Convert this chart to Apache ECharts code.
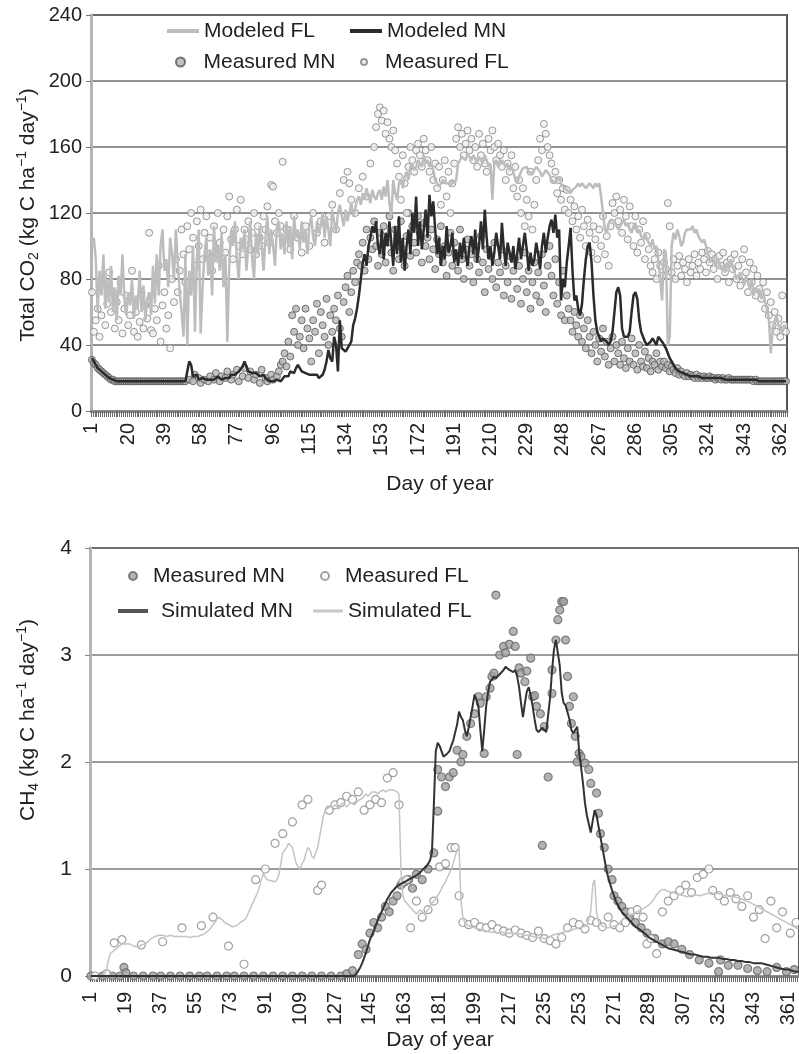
<!DOCTYPE html>
<html>
<head>
<meta charset="utf-8">
<script src="https://cdn.jsdelivr.net/npm/echarts@6/dist/echarts.min.js"></script>
<style>
  html, body { margin: 0; padding: 0; background: #fff; }
  #chart { width: 799px; height: 1054px; }
</style>
</head>
<body>
<div id="chart"></div>
<script>
const FONT = '"Liberation Sans", Arial, Helvetica, sans-serif';

// ---------- Total CO2 panel (days 1..365) ----------
const co2Days = Array.from({ length: 365 }, (_, i) => String(i + 1));

const modeledFL = [
  100,105,92,60,85,70,95,62,80,66,
  88,60,75,55,82,70,95,68,58,72,
  64,80,56,70,62,85,60,76,55,68,
  72,58,88,65,95,70,100,110,85,92,
  75,105,95,80,110,90,72,60,45,95,
  40,85,70,100,48,92,110,47,75,95,
  105,82,98,70,112,90,100,85,108,75,
  95,42,88,110,100,115,92,80,105,98,
  110,85,100,115,92,80,108,95,112,100,
  85,105,118,95,110,100,88,112,115,98,
  108,95,115,100,112,92,118,105,110,98,
  115,102,110,95,112,118,105,100,115,108,
  112,120,105,118,110,100,122,115,108,120,
  125,118,112,122,115,120,126,118,122,128,
  130,125,132,128,135,130,126,134,130,128,
  132,134,128,136,130,140,126,118,140,132,
  128,138,140,135,142,145,140,148,150,146,
  148,152,150,148,155,150,152,148,150,146,
  140,138,136,138,140,138,137,138,136,140,
  138,140,150,152,154,155,152,156,154,152,
  155,153,150,154,152,150,155,152,148,150,
  128,150,152,148,150,152,150,148,150,146,
  148,145,140,138,142,145,147,146,148,145,
  146,144,146,148,147,145,142,144,146,145,
  143,140,141,138,140,142,138,136,137,134,
  133,132,134,133,136,138,136,138,137,135,
  136,138,137,135,138,136,138,130,120,110,
  108,114,116,117,115,116,110,112,114,116,
  112,114,110,108,112,114,108,110,106,104,
  108,104,102,100,104,98,100,92,80,67,
  98,96,40,45,100,108,104,110,106,100,
  102,108,110,111,110,112,108,110,106,104,
  102,104,100,96,90,92,94,88,92,90,
  86,88,84,90,86,92,88,84,80,82,
  84,80,76,82,78,74,80,70,75,72,
  74,68,72,66,62,56,35,50,55,58,
  52,50,48,52,50
];

const modeledMN = [
  32,30,28,26,25,24,23,22,21,20,
  19,19,18,18,18,18,18,18,18,18,
  18,18,18,18,18,18,18,18,18,18,
  18,18,18,18,18,18,18,18,18,18,
  18,18,18,18,18,18,18,18,18,18,
  18,30,28,21,20,22,19,19,20,19,
  19,18,19,20,19,20,21,20,19,20,
  20,21,20,22,21,22,23,24,25,27,
  30,29,24,25,23,22,23,22,21,22,
  22,20,19,18,19,18,18,19,18,18,
  19,21,22,21,24,25,23,26,28,29,
  24,23,23,22,22,23,22,21,22,20,
  19,22,25,30,37,32,30,45,40,24,
  55,38,37,36,38,37,42,52,56,62,
  70,80,90,95,88,100,105,112,108,115,
  100,95,110,92,108,100,115,102,88,112,
  95,118,90,105,85,100,110,95,120,108,
  130,100,115,98,110,122,105,131,118,127,
  110,95,105,88,100,92,112,96,100,108,
  90,98,88,102,92,105,95,88,100,106,
  95,110,90,100,115,98,122,105,92,100,
  88,96,108,100,92,114,98,88,102,96,
  90,100,86,95,105,92,100,108,98,85,
  96,88,92,102,95,86,100,108,96,105,
  112,116,108,119,105,110,67,80,75,90,
  100,111,85,67,70,62,58,65,80,92,
  100,102,90,70,55,48,45,42,44,45,
  42,40,42,48,60,72,75,70,50,45,
  44,45,48,60,70,72,68,55,48,45,
  42,40,40,42,44,42,40,45,44,42,
  40,38,35,32,30,28,26,25,24,23,
  23,22,22,22,21,21,21,21,21,21,
  20,20,20,20,20,20,20,20,20,20,
  20,20,19,19,19,19,19,19,19,19,
  19,19,19,19,19,19,19,19,19,19,
  18,18,18,18,18,18,18,18,18,18,
  18,18,18,18,18
];

// [day, value]
const measuredMN = [
  [1,31],[2,29],[3,28],[4,26],[5,25],[6,24],[7,23],[8,22],[9,21],[10,20],
  [11,19],[12,19],[13,18],[14,18],[15,18],[16,18],[17,18],[18,18],[19,18],[20,18],
  [21,18],[22,18],[23,18],[24,18],[25,18],[26,18],[27,18],[28,18],[29,18],[30,18],
  [31,18],[32,18],[33,18],[34,18],[35,18],[36,18],[37,18],[38,18],[39,18],[40,18],
  [41,18],[42,18],[43,18],[44,18],[45,18],[46,18],[47,18],[48,18],[49,18],[50,18],
  [52,19],[54,18],[55,22],[57,20],[58,17],[60,19],[62,18],[63,21],[65,19],[66,23],
  [68,18],[69,21],[71,20],[72,24],[74,19],[75,22],[77,25],[78,18],[80,21],[81,26],
  [83,20],[84,24],[86,19],[87,22],[89,17],[90,25],[92,20],[93,18],[95,22],[96,19],
  [98,21],[99,24],[100,28],
  [101,30],[102,35],[103,27],[104,42],[105,33],[106,58],[107,48],[108,62],[109,40],[110,45],
  [111,55],[112,38],[113,62],[114,50],[115,44],[116,30],[117,55],[118,48],[119,65],[120,35],
  [121,60],[122,52],[123,45],[124,68],[125,40],[126,58],[127,48],[128,62],[129,55],[130,70],
  [131,50],[132,45],[133,66],[134,75],[135,82],[136,60],[137,72],[138,85],[139,78],[140,90],
  [141,95],[142,88],[143,102],[144,85],[145,110],[146,92],[147,105],[148,98],[149,115],[150,100],
  [151,88],[152,108],[153,95],[154,112],[155,90],[156,102],[157,118],[158,96],[159,85],[160,110],
  [161,100],[162,92],[163,115],[164,98],[165,88],[166,106],[167,120],[168,94],[169,112],[170,102],
  [171,96],[172,118],[173,108],[174,90],[175,114],[176,100],[177,105],[178,92],[179,110],[180,98],
  [181,86],[182,104],[183,95],[184,112],[185,90],[186,100],[187,82],[188,96],[189,108],[190,88],
  [191,102],[192,94],[193,85],[194,110],[195,92],[196,80],[197,98],[198,104],[199,88],[200,95],
  [201,78],[202,100],[203,92],[204,84],[205,106],[206,90],[207,72],[208,98],[209,86],[210,94],
  [211,80],[212,102],[213,75],[214,90],[215,84],[216,98],[217,70],[218,88],[219,78],[220,94],
  [221,68],[222,85],[223,92],[224,74],[225,88],[226,65],[227,80],[228,96],[229,72],[230,85],
  [231,62],[232,78],[233,90],[234,70],[235,84],[236,66],[237,95],[238,76],[239,60],[240,88],
  [241,100],[242,82],[243,70],[244,92],[245,65],[246,78],[247,58],[248,85],[249,55],[250,70],
  [251,62],[252,55],[253,48],[254,60],[255,52],[256,45],[257,58],[258,42],[259,50],[260,38],
  [261,55],[262,45],[263,35],[264,48],[265,40],[266,30],[267,44],[268,36],[269,50],[270,33],
  [271,42],[272,28],[273,38],[274,45],[275,30],[276,40],[277,35],[278,28],[279,42],[280,32],
  [281,26],[282,38],[283,30],[284,44],[285,28],[286,35],[287,25],[288,40],[289,30],[290,27],
  [291,36],[292,26],[293,32],[294,24],[295,30],[296,28],[297,35],[298,25],[299,30],[300,27],
  [301,30],[302,26],[303,28],[304,24],[305,27],[306,25],[307,23],[308,26],[309,22],[310,24],
  [311,22],[312,21],[313,23],[314,21],[315,22],[316,21],[317,20],[318,22],[319,20],[320,21],
  [321,20],[322,21],[323,20],[324,20],[325,21],[326,20],[327,20],[328,19],[329,20],[330,20],
  [331,19],[332,20],[333,19],[334,19],[335,20],[336,19],[337,19],[338,19],[339,19],[340,19],
  [341,19],[342,19],[343,19],[344,19],[345,19],[346,19],[347,19],[348,18],[349,19],[350,18],
  [351,18],[352,18],[353,18],[354,18],[355,18],[356,18],[357,18],[358,18],[359,18],[360,18],
  [361,18],[362,18],[363,18],[364,18],[365,18]
];

const measuredFL = [
  [1,72],[2,48],[3,55],[4,62],[5,45],[6,58],[7,80],[8,52],[9,65],[10,84],
  [11,60],[12,72],[13,50],[14,66],[15,55],[16,78],[17,47],[18,62],[19,70],[20,52],
  [21,58],[22,85],[23,48],[24,60],[25,45],[26,54],[27,72],[28,50],[29,64],[30,56],
  [31,108],[32,49],[33,47],[34,62],[35,55],[36,88],[37,42],[38,64],[39,72],[40,50],
  [41,58],[42,38],[43,80],[44,66],[45,92],[46,72],[47,85],[48,110],[49,95],[50,78],
  [51,112],[52,98],[53,120],[54,105],[55,88],[56,115],[57,100],[58,122],[59,92],[60,108],
  [61,118],[62,95],[63,105],[64,85],[65,112],[66,98],[67,120],[68,102],[69,90],[70,110],
  [71,96],[72,118],[73,130],[74,104],[75,92],[76,110],[77,122],[78,100],[79,128],[80,95],
  [81,110],[82,104],[83,115],[84,98],[85,108],[86,120],[87,95],[88,112],[89,105],[90,100],
  [91,118],[92,110],[93,124],[94,102],[95,137],[96,136],[97,115],[98,108],[99,120],[100,112],
  [101,151],[103,110],[105,98],[107,118],[109,105],[111,96],[113,112],[115,100],[117,120],[119,108],
  [121,115],[123,102],[125,118],[127,125],[129,110],[131,132],[133,140],[135,145],[136,138],[137,128],
  [139,120],[141,135],[143,142],[145,130],[147,150],[149,160],
  [150,172],[151,180],[152,184],[153,176],[154,182],[155,168],[156,175],[157,165],[158,160],[159,170],
  [160,158],[161,150],[162,142],[163,128],[164,155],[165,138],[166,120],[167,148],[168,160],[169,152],
  [170,145],[171,158],[172,162],[173,155],[174,148],[175,165],[176,158],[177,152],[178,145],[179,160],
  [180,140],[181,150],[182,135],[183,148],[184,125],[185,140],[186,152],[187,130],[188,145],[189,120],
  [190,138],[191,150],[192,165],[193,172],[194,160],[195,168],[196,155],[197,162],[198,170],[199,158],
  [200,165],[201,152],[202,160],[203,148],[204,168],[205,155],[206,162],[207,150],[208,145],[209,165],
  [210,158],[211,170],[212,160],[213,152],[214,162],[215,155],[216,148],[217,158],[218,140],[219,150],
  [220,145],[221,155],[222,135],[223,148],[224,130],[225,140],[226,120],[227,135],[228,112],[229,128],
  [230,118],[231,145],[232,110],[233,125],[234,140],[235,152],[236,165],[237,158],[238,174],[239,168],
  [240,160],[241,155],[242,150],[243,140],[244,145],[245,132],
  [246,140],[247,128],[248,135],[249,122],[250,134],[251,120],[252,128],[253,115],[254,124],[255,110],
  [256,118],[257,105],[258,122],[259,112],[260,100],[261,116],[262,108],[263,96],[264,112],[265,104],
  [266,92],[267,110],[268,100],[269,118],[270,95],[271,106],[272,88],[273,112],[274,126],[275,120],
  [276,130],[277,115],[278,122],[279,108],[280,128],[281,118],[282,104],[283,124],[284,112],[285,100],
  [286,118],[287,96],[288,110],[289,102],[290,115],[291,92],[292,106],[293,98],[294,88],[295,84],
  [296,92],[297,80],[298,96],[299,88],[300,82],[301,90],[302,86],[303,126],[304,112],[305,84],
  [306,92],[307,80],[308,88],[309,94],[310,82],[311,90],[312,86],[313,78],[314,92],[315,84],
  [316,88],[317,95],[318,82],[319,90],[320,86],[321,96],[322,92],[323,84],[324,97],[325,90],
  [326,95],[327,86],[328,92],[329,80],[330,94],[331,88],[332,96],[333,84],[334,90],[335,78],
  [336,92],[337,86],[338,95],[339,80],[340,88],[341,76],[342,92],[343,98],[344,84],[345,72],
  [346,90],[347,78],[348,86],[349,70],[350,82],[351,74],[352,68],[353,78],[354,62],[355,72],
  [356,58],[357,66],[358,52],[359,60],[360,48],[361,56],[362,45],[363,70],[364,52],[365,48]
];

// ---------- CH4 panel (days 1..366) ----------
const ch4Days = Array.from({ length: 366 }, (_, i) => String(i + 1));

const simulatedMN = [
  0,0,0,0,0,0,0,0,0,0,
  0,0,0,0,0,0,0,0,0,0,
  0,0,0,0,0,0,0,0,0,0,
  0,0,0,0,0,0,0,0,0,0,
  0,0,0,0,0,0,0,0,0,0,
  0,0,0,0,0,0,0,0,0,0,
  0,0,0,0,0,0,0,0,0,0,
  0,0,0,0,0,0,0,0,0,0,
  0,0,0,0,0,0,0,0,0,0,
  0,0,0,0,0,0,0,0,0,0,
  0,0,0,0,0,0,0,0,0,0,
  0,0,0,0,0,0,0,0,0,0,
  0,0,0,0,0,0,0,0,0,0,
  0,0,0,0,0,0,0,0.02,0.05,0.08,
  0.12,0.17,0.22,0.28,0.34,0.38,0.42,0.47,0.52,0.56,
  0.6,0.64,0.68,0.72,0.75,0.78,0.8,0.82,0.84,0.85,
  0.86,0.87,0.88,0.89,0.9,0.91,0.92,0.93,0.94,0.95,
  0.97,0.99,1.0,1.02,1.05,1.08,1.15,1.6,2.1,2.18,
  2.15,2.1,2.05,2.05,2.08,2.1,2.15,2.2,2.2,2.35,
  2.47,2.42,2.39,2.3,2.24,2.32,2.42,2.52,2.63,2.58,
  2.52,2.3,2.1,2.3,2.52,2.65,2.75,2.77,2.8,2.78,
  2.8,2.82,2.83,2.86,2.89,2.88,2.86,2.85,2.84,2.86,
  2.8,2.7,2.55,2.42,2.55,2.66,2.7,2.62,2.52,2.4,
  2.3,2.28,2.3,2.32,2.3,2.28,2.27,2.6,2.85,3.05,
  3.14,3.14,2.9,2.65,2.55,2.53,2.52,2.4,2.3,2.27,
  2.3,2.33,2.1,1.95,1.8,1.62,1.5,1.42,1.34,1.45,
  1.55,1.5,1.4,1.3,1.2,1.1,1.0,0.92,0.86,0.8,
  0.75,0.7,0.66,0.63,0.6,0.58,0.56,0.54,0.52,0.5,
  0.48,0.46,0.45,0.44,0.43,0.41,0.4,0.38,0.36,0.35,
  0.34,0.33,0.32,0.31,0.3,0.29,0.28,0.27,0.26,0.26,
  0.25,0.24,0.24,0.23,0.23,0.22,0.22,0.21,0.21,0.2,
  0.2,0.2,0.2,0.19,0.19,0.19,0.18,0.18,0.18,0.18,
  0.17,0.17,0.17,0.17,0.17,0.16,0.16,0.16,0.16,0.15,
  0.15,0.15,0.15,0.14,0.14,0.14,0.14,0.13,0.13,0.13,
  0.13,0.13,0.12,0.12,0.12,0.12,0.12,0.11,0.11,0.1,
  0.1,0.1,0.09,0.09,0.08,0.08,0.07,0.07,0.06,0.06,
  0.06,0.05,0.05,0.05,0.04,0.04
];

const simulatedFL = [
  0,0,0,0,0,0,0,0,0.05,0.15,
  0.21,0.22,0.24,0.25,0.27,0.28,0.3,0.31,0.3,0.31,
  0.3,0.29,0.28,0.28,0.27,0.28,0.29,0.3,0.3,0.31,
  0.33,0.35,0.36,0.37,0.38,0.38,0.37,0.38,0.38,0.37,
  0.38,0.38,0.37,0.37,0.38,0.37,0.37,0.37,0.36,0.37,
  0.37,0.36,0.37,0.37,0.36,0.37,0.38,0.38,0.39,0.4,
  0.41,0.43,0.45,0.48,0.5,0.53,0.55,0.54,0.52,0.5,
  0.49,0.48,0.47,0.46,0.46,0.47,0.48,0.5,0.51,0.52,
  0.54,0.58,0.62,0.66,0.7,0.74,0.78,0.84,0.9,0.96,
  0.92,0.9,0.9,0.89,0.88,0.88,0.9,0.95,1.05,1.15,
  1.15,1.2,1.24,1.22,1.2,1.12,1.05,1.02,1.0,1.05,
  1.08,1.15,1.2,1.18,1.12,1.1,1.15,1.2,1.3,1.4,
  1.5,1.55,1.55,1.58,1.57,1.58,1.6,1.58,1.56,1.6,
  1.62,1.6,1.58,1.6,1.62,1.63,1.6,1.62,1.64,1.65,
  1.66,1.68,1.7,1.68,1.7,1.72,1.73,1.72,1.7,1.72,
  1.73,1.74,1.72,1.73,1.74,1.75,1.74,1.73,1.72,1.7,
  1.0,0.75,0.7,0.68,0.66,0.65,0.62,0.6,0.58,0.6,
  0.62,0.6,0.58,0.6,0.62,0.65,0.68,0.7,0.72,0.75,
  0.78,0.82,0.85,0.88,0.92,0.96,1.0,1.05,1.12,1.18,
  1.2,0.7,0.55,0.5,0.48,0.47,0.46,0.45,0.45,0.44,
  0.44,0.43,0.43,0.42,0.42,0.42,0.41,0.41,0.41,0.4,
  0.4,0.4,0.41,0.4,0.4,0.4,0.4,0.39,0.4,0.4,
  0.4,0.4,0.39,0.38,0.38,0.37,0.38,0.38,0.37,0.36,
  0.36,0.35,0.36,0.35,0.35,0.36,0.36,0.37,0.38,0.38,
  0.39,0.4,0.4,0.41,0.41,0.42,0.42,0.43,0.43,0.44,
  0.44,0.45,0.45,0.46,0.46,0.46,0.47,0.48,0.6,0.85,
  0.9,0.6,0.5,0.48,0.47,0.46,0.46,0.45,0.45,0.46,
  0.46,0.47,0.48,0.5,0.52,0.54,0.55,0.56,0.57,0.58,
  0.58,0.59,0.6,0.61,0.62,0.63,0.64,0.65,0.66,0.68,
  0.7,0.73,0.76,0.78,0.8,0.8,0.81,0.8,0.79,0.78,
  0.78,0.77,0.77,0.76,0.76,0.75,0.75,0.75,0.74,0.75,
  0.75,0.75,0.76,0.76,0.75,0.75,0.76,0.77,0.77,0.78,
  0.78,0.78,0.77,0.77,0.77,0.76,0.76,0.76,0.75,0.75,
  0.75,0.74,0.74,0.74,0.73,0.72,0.72,0.71,0.7,0.7,
  0.69,0.68,0.67,0.66,0.65,0.64,0.63,0.62,0.61,0.6,
  0.59,0.58,0.57,0.56,0.55,0.54,0.53,0.52,0.51,0.5,
  0.49,0.48,0.47,0.46,0.45,0.44
];

// [day, value]
const ch4MeasuredMN = [
  [1,0],[7,0],[12,0],[16,0],[18,0.08],[19,0.03],[23,0],[28,0],[33,0],[37,0],
  [42,0],[47,0],[52,0],[57,0],[61,0],[66,0],[71,0],[75,0],[80,0],[85,0],
  [90,0],[95,0],[100,0],[105,0],[110,0],[115,0],[120,0],[125,0],[130,0],[133,0.02],
  [136,0.05],[139,0.2],[141,0.3],[143,0.25],[145,0.4],[147,0.5],[149,0.45],[151,0.55],[153,0.65],[155,0.6],
  [157,0.7],[159,0.75],[161,0.85],[163,0.88],[165,0.9],[167,0.82],[169,0.95],[172,0.9],[175,1.0],[178,1.15],
  [180,1.54],[180,1.93],[182,1.86],[184,1.77],[186,1.86],[188,1.9],[190,2.11],[192,2.0],[193,2.07],[195,2.24],
  [197,2.36],[199,2.45],[201,2.61],[202,2.55],[204,2.08],[205,2.61],[207,2.69],[208,2.8],[209,2.83],[210,3.56],
  [212,3.0],[214,3.08],[215,3.02],[217,3.1],[219,3.22],[220,3.08],[221,2.07],[222,2.88],[223,2.83],[225,2.75],
  [226,2.85],[228,2.97],[229,2.61],[230,2.62],[231,2.52],[233,2.45],[234,1.22],[235,2.33],[237,1.86],[239,2.86],
  [239,2.64],[241,3.14],[242,3.33],[243,3.42],[244,3.5],[245,3.5],[246,3.14],[247,2.8],[248,2.52],[249,2.36],
  [250,2.61],[251,2.24],[252,2.0],[253,2.08],[254,2.05],[256,1.99],[258,1.93],[259,1.8],[262,1.71],[263,1.52],
  [264,1.33],[266,1.2],[268,1.0],[270,0.9],[271,0.75],[273,0.7],[275,0.65],[277,0.6],[279,0.55],[282,0.5],
  [285,0.45],[288,0.4],[292,0.35],[296,0.3],[299,0.32],[302,0.3],[306,0.25],[310,0.2],[315,0.15],[320,0.12],
  [325,0.04],[326,0.15],[330,0.1],[335,0.1],[340,0.07],[345,0.05],[350,0.04],[355,0.08],[360,0.04],[364,0.06]
];

const ch4MeasuredFL = [
  [3,0],[9,0.02],[13,0.31],[17,0.34],[27,0.29],[38,0.32],[48,0.45],[58,0.47],[64,0.55],[72,0.28],
  [80,0.11],[86,0.9],[91,1.0],[96,1.24],[100,1.33],[105,1.44],[110,1.6],[113,1.65],[118,0.8],[120,0.85],
  [124,1.55],[127,1.6],[130,1.62],[133,1.68],[136,1.65],[139,1.72],[142,1.55],[145,1.6],[148,1.65],[151,1.62],
  [154,1.85],[157,1.9],[160,1.6],[162,0.88],[164,0.9],[166,0.45],[169,0.7],[172,0.55],[175,0.62],[178,0.7],
  [181,1.02],[184,1.05],[187,1.2],[189,1.2],[191,0.75],[193,0.5],[196,0.48],[199,0.5],[202,0.46],[205,0.45],
  [208,0.48],[211,0.44],[214,0.42],[217,0.4],[220,0.43],[223,0.4],[226,0.38],[229,0.36],[232,0.42],[235,0.35],
  [238,0.33],[241,0.3],[244,0.36],[247,0.45],[250,0.5],[253,0.48],[256,0.44],[259,0.52],[262,0.5],[265,0.46],
  [268,0.55],[271,0.48],[274,0.45],[277,0.5],[280,0.6],[283,0.62],[286,0.55],[288,0.3],[290,0.35],[293,0.21],
  [296,0.6],[299,0.7],[302,0.75],[305,0.8],[308,0.85],[311,0.78],[314,0.92],[317,0.95],[320,1.0],[322,0.8],
  [325,0.75],[328,0.7],[331,0.78],[334,0.72],[337,0.65],[340,0.75],[343,0.55],[346,0.62],[349,0.35],[352,0.7],
  [355,0.45],[358,0.6],[362,0.4],[365,0.5]
];

const co2Axis = { min: 0, max: 240, step: 40 };
const ch4Axis = { min: 0, max: 4, step: 1 };

const asPoints = arr => arr.map(([d, v]) => [String(d), v]);

const chart = echarts.init(document.getElementById('chart'), null, { renderer: 'canvas' });

const tickText = { color: '#222', fontFamily: FONT };
const legendText = { fontSize: 21, color: '#222', fontFamily: FONT, lineHeight: 24 };

// one legend box per entry so each sits at its own spot
function legendItem(name, icon, left, top, w, h, padLeft) {
  return {
    data: [{ name, icon }], left, top, itemWidth: w, itemHeight: h, padding: 0,
    selectedMode: false,
    textStyle: Object.assign({ padding: [0, 0, 0, padLeft || 0] }, legendText),
    formatter: n => n.replace('CH4 ', '')
  };
}

const titleRich = {
  a: { fontSize: 21, lineHeight: 26, fontFamily: FONT, fill: '#222' },
  s: { fontSize: 14, lineHeight: 12, verticalAlign: 'bottom', fontFamily: FONT, fill: '#222' },
  p: { fontSize: 14, lineHeight: 12, verticalAlign: 'top', fontFamily: FONT, fill: '#222' }
};

chart.setOption({
  animation: false,
  backgroundColor: '#ffffff',
  grid: [
    { left: 91, top: 15, width: 696, height: 396, show: true, borderColor: '#555', borderWidth: 2 },
    { left: 90, top: 548, width: 715, height: 428, show: true, borderColor: '#555', borderWidth: 2 }
  ],
  xAxis: [
    {
      type: 'category', gridIndex: 0, data: co2Days, boundaryGap: true,
      axisLine: { lineStyle: { color: '#8c8c8c', width: 3 } },
      axisTick: { show: true, interval: 0, length: 6, lineStyle: { color: '#6a6a6a', width: 1 } },
      axisLabel: Object.assign({ interval: 18, rotate: 90, margin: 12, fontSize: 20 }, tickText),
      splitLine: { show: false }
    },
    {
      type: 'category', gridIndex: 1, data: ch4Days, boundaryGap: true,
      axisLine: { lineStyle: { color: '#8c8c8c', width: 3 } },
      axisTick: { show: true, interval: 0, length: 6, lineStyle: { color: '#6a6a6a', width: 1 } },
      axisLabel: Object.assign({ interval: 17, rotate: 90, margin: 16, fontSize: 20 }, tickText),
      splitLine: { show: false }
    }
  ],
  yAxis: [
    {
      type: 'value', gridIndex: 0, min: co2Axis.min, max: co2Axis.max, interval: co2Axis.step,
      axisLine: { show: true, lineStyle: { color: '#b5b5b5', width: 3 } },
      axisTick: { show: true, length: 5, lineStyle: { color: '#777' } },
      axisLabel: Object.assign({ margin: 9, fontSize: 20 }, tickText),
      splitLine: { lineStyle: { color: '#6e6e6e', width: 1.5 } }
    },
    {
      type: 'value', gridIndex: 1, min: ch4Axis.min, max: ch4Axis.max, interval: ch4Axis.step,
      axisLine: { show: true, lineStyle: { color: '#b5b5b5', width: 3 } },
      axisTick: { show: true, length: 5, lineStyle: { color: '#888' } },
      axisLabel: Object.assign({ margin: 18, fontSize: 21 }, tickText),
      splitLine: { lineStyle: { color: '#7a7a7a', width: 1.5 } }
    }
  ],
  legend: [
    legendItem('Modeled FL', 'rect', 167, 19, 32, 4, 0),
    legendItem('Modeled MN', 'rect', 350, 19, 32, 4, 0),
    legendItem('Measured MN', 'circle', 175, 50, 32, 9, 2),
    legendItem('Measured FL', 'circle', 360, 50, 32, 6, 0),
    legendItem('CH4 Measured MN', 'circle', 128, 564, 30, 8, 0),
    legendItem('CH4 Measured FL', 'circle', 320, 564, 30, 8, 0),
    legendItem('Simulated MN', 'rect', 118, 599, 30, 4, 8),
    legendItem('Simulated FL', 'rect', 313, 599, 30, 3, 0)
  ],
  graphic: [
    {
      type: 'text', x: 28, y: 215, rotation: Math.PI / 2,
      style: {
        text: '{a|Total CO}{s|2}{a| (kg C ha}{p|−1}{a| day}{p|−1}{a|)}',
        rich: titleRich, align: 'center', verticalAlign: 'middle'
      }
    },
    {
      type: 'text', x: 28, y: 720, rotation: Math.PI / 2,
      style: {
        text: '{a|CH}{s|4}{a| (kg C ha}{p|−1}{a| day}{p|−1}{a|)}',
        rich: titleRich, align: 'center', verticalAlign: 'middle'
      }
    },
    {
      type: 'text', x: 440, y: 484,
      style: { text: 'Day of year', font: '21px ' + FONT, fill: '#222', align: 'center', verticalAlign: 'middle' }
    },
    {
      type: 'text', x: 440, y: 1040,
      style: { text: 'Day of year', font: '21px ' + FONT, fill: '#222', align: 'center', verticalAlign: 'middle' }
    }
  ],
  series: [
    {
      name: 'Measured MN', type: 'scatter', xAxisIndex: 0, yAxisIndex: 0, z: 2,
      symbol: 'circle', symbolSize: 7, data: asPoints(measuredMN),
      itemStyle: { color: '#b4b4b4', borderColor: '#555', borderWidth: 1 }
    },
    {
      name: 'Measured FL', type: 'scatter', xAxisIndex: 0, yAxisIndex: 0, z: 2,
      symbol: 'circle', symbolSize: 7, data: asPoints(measuredFL),
      itemStyle: { color: '#f0f0f0', borderColor: '#808080', borderWidth: 1 }
    },
    {
      name: 'Modeled FL', type: 'line', xAxisIndex: 0, yAxisIndex: 0, z: 3,
      symbol: 'none', data: modeledFL,
      lineStyle: { color: '#bdbdbd', width: 2.5 }, itemStyle: { color: '#bdbdbd' }
    },
    {
      name: 'Modeled MN', type: 'line', xAxisIndex: 0, yAxisIndex: 0, z: 4,
      symbol: 'none', data: modeledMN,
      lineStyle: { color: '#2b2b2b', width: 2.5 }, itemStyle: { color: '#2b2b2b' }
    },
    {
      name: 'CH4 Measured MN', type: 'scatter', xAxisIndex: 1, yAxisIndex: 1, z: 2,
      symbol: 'circle', symbolSize: 8, data: asPoints(ch4MeasuredMN),
      itemStyle: { color: '#a0a0a0', borderColor: '#666', borderWidth: 1.2 }
    },
    {
      name: 'CH4 Measured FL', type: 'scatter', xAxisIndex: 1, yAxisIndex: 1, z: 2,
      symbol: 'circle', symbolSize: 8, data: asPoints(ch4MeasuredFL),
      itemStyle: { color: '#ffffff', borderColor: '#8a8a8a', borderWidth: 1.2 }
    },
    {
      name: 'Simulated MN', type: 'line', xAxisIndex: 1, yAxisIndex: 1, z: 4,
      symbol: 'none', data: simulatedMN,
      lineStyle: { color: '#333', width: 2 }, itemStyle: { color: '#555' }
    },
    {
      name: 'Simulated FL', type: 'line', xAxisIndex: 1, yAxisIndex: 1, z: 3,
      symbol: 'none', data: simulatedFL,
      lineStyle: { color: '#c4c4c4', width: 1.5 }, itemStyle: { color: '#c8c8c8' }
    }
  ]
});
</script>
</body>
</html>
